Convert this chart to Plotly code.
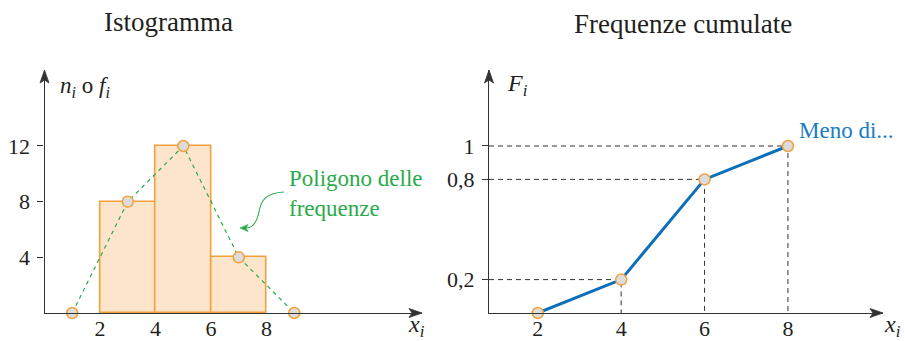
import plotly.graph_objects as go

# ---- data: histogram of the absolute frequencies ----
class_mid = [3, 5, 7]          # class centres (classes 2-4, 4-6, 6-8)
class_width = [2, 2, 2]
freq = [8, 12, 4]
poly_x = [1, 3, 5, 7, 9]        # frequency polygon, closed on empty classes
poly_y = [0, 8, 12, 4, 0]
hist_xticks = [2, 4, 6, 8]
hist_yticks = [4, 8, 12]

# ---- data: cumulative frequencies ("meno di ...") ----
cum_x = [2, 4, 6, 8]
cum_F = [0, 0.2, 0.8, 1]
cum_xticks = [2, 4, 6, 8]
cum_yticks = [0.2, 0.8, 1]
cum_yticktext = ["0,2", "0,8", "1"]

SERIF = "Liberation Serif, Times New Roman, DejaVu Serif, serif"
INK = "#231f20"
AXIS = "#333333"
ORANGE = "#f4a03c"
PEACH = "#fde5cb"
GREEN = "#2aab4a"
BLUE = "#0b6fba"
W, H = 905, 341

def px(x):
    return x / W

def py(y):
    return 1 - y / H

# axis ranges
L_XR = [0, 13.6]
L_YR = [0, 17.46]
R_XR = [0.83, 10.28]
R_YR = [0, 1.455]
L_XDOM = [44.5 / W, 422 / W]
R_XDOM = [489 / W, 883 / W]
YDOM = [28 / H, 271 / H]

fig = go.Figure()

# histogram bars
fig.add_trace(go.Bar(
    x=class_mid, y=freq, width=class_width,
    marker=dict(color=PEACH, line=dict(color=ORANGE, width=1.6)),
    xaxis="x", yaxis="y", hoverinfo="skip",
))

# frequency polygon
fig.add_trace(go.Scatter(
    x=poly_x, y=poly_y, mode="lines+markers",
    line=dict(color=GREEN, width=1.2, dash="4px,4px"),
    marker=dict(size=11, color="#dcdcdc", line=dict(color=ORANGE, width=1.5)),
    cliponaxis=False, xaxis="x", yaxis="y",
))

# dashed guides of the cumulative curve
for xv, fv in zip(cum_x[1:], cum_F[1:]):
    fig.add_trace(go.Scatter(
        x=[R_XR[0], xv, xv], y=[fv, fv, 0], mode="lines",
        line=dict(color=AXIS, width=1, dash="5px,4px"),
        xaxis="x2", yaxis="y2", hoverinfo="skip",
    ))

# cumulative frequency polygon
fig.add_trace(go.Scatter(
    x=cum_x, y=cum_F, mode="lines+markers",
    line=dict(color=BLUE, width=3),
    marker=dict(size=11, color="#dcdcdc", line=dict(color=ORANGE, width=1.5)),
    cliponaxis=False, xaxis="x2", yaxis="y2",
))

tickfont = dict(family=SERIF, size=22, color=INK)

common_x = dict(showgrid=False, zeroline=False, showline=True, linecolor=AXIS,
                linewidth=1.3, ticks="", tickfont=tickfont, ticklabelstandoff=-5,
                fixedrange=True, automargin=False)
common_y = dict(showgrid=False, zeroline=False, showline=True, linecolor=AXIS,
                linewidth=1.3, ticks="outside", ticklen=6, tickwidth=1.3,
                tickcolor=AXIS, tickfont=tickfont, ticklabelstandoff=3,
                fixedrange=True, automargin=False)
inner_ticks = dict(showticklabels=False, ticks="inside", ticklen=5, tickwidth=1.3,
                   tickcolor=AXIS, showgrid=False, zeroline=False, showline=False,
                   fixedrange=True, automargin=False)

fig.update_layout(
    width=W, height=H, autosize=False,
    margin=dict(l=0, r=0, t=0, b=0, pad=0, autoexpand=False),
    paper_bgcolor="white", plot_bgcolor="white",
    showlegend=False, bargap=0,
    xaxis=dict(domain=L_XDOM, range=L_XR, tickvals=hist_xticks, anchor="y", **common_x),
    yaxis=dict(domain=YDOM, range=L_YR, tickvals=hist_yticks, anchor="x", **common_y),
    xaxis2=dict(domain=R_XDOM, range=R_XR, tickvals=cum_xticks, anchor="y2", **common_x),
    yaxis2=dict(domain=YDOM, range=R_YR, tickvals=cum_yticks, ticktext=cum_yticktext,
                anchor="x2", **common_y),
    # inner halves of the y ticks, so that they cross the axis
    yaxis3=dict(domain=YDOM, range=L_YR, tickvals=hist_yticks, overlaying="y",
                anchor="x", **inner_ticks),
    yaxis4=dict(domain=YDOM, range=R_YR, tickvals=cum_yticks, overlaying="y2",
                anchor="x2", **inner_ticks),
)

# arrow heads at the ends of the axes (concave triangles)
def head_right(dom):
    u = 1 / ((dom[1] - dom[0]) * W)   # one pixel in x-domain units
    v = 1 / ((YDOM[1] - YDOM[0]) * H)  # one pixel in y-domain units
    return (f"M 1,0 L {1 - 13 * u},{4.5 * v} L {1 - 10 * u},0 "
            f"L {1 - 13 * u},{-4.5 * v} Z")

def head_up(dom):
    u = 1 / ((dom[1] - dom[0]) * W)
    v = 1 / ((YDOM[1] - YDOM[0]) * H)
    return (f"M 0,1 L {4.5 * u},{1 - 13 * v} L 0,{1 - 10 * v} "
            f"L {-4.5 * u},{1 - 13 * v} Z")

for xr, yr, dom in (("x", "y", L_XDOM), ("x2", "y2", R_XDOM)):
    for path in (head_right(dom), head_up(dom)):
        fig.add_shape(type="path", xref=f"{xr} domain", yref=f"{yr} domain",
                      path=path, fillcolor=AXIS, line=dict(color=AXIS, width=0.8))

titlefont = dict(family=SERIF, size=27, color=INK)
labelfont = dict(family=SERIF, size=24, color=INK)
annotations = [
    dict(x=px(168), y=py(22), text="Istogramma", font=titlefont),
    dict(x=px(683), y=py(24), text="Frequenze cumulate", font=titlefont),
    dict(x=px(58), y=py(87), xanchor="left",
         text="<i>n</i><sub><i>i</i></sub> o <i>f</i><sub><i>i</i></sub>",
         font=dict(family=SERIF, size=23, color=INK)),
    dict(x=px(505), y=py(85), xanchor="left",
         text="<i>F</i><sub><i>i</i></sub>", font=labelfont),
    dict(x=px(406), y=py(326), xanchor="left",
         text="<i>x</i><sub><i>i</i></sub>", font=labelfont),
    dict(x=px(882), y=py(326), xanchor="left",
         text="<i>x</i><sub><i>i</i></sub>", font=labelfont),
    dict(x=px(287), y=py(193), xanchor="left", align="left",
         text="Poligono delle<br>frequenze",
         font=dict(family=SERIF, size=23, color=GREEN)),
    dict(x=px(797), y=py(130), xanchor="left", text="Meno di...",
         font=dict(family=SERIF, size=23, color="#1a7cc2")),
]
for a in annotations:
    a.setdefault("xanchor", "center")
    a.update(xref="paper", yref="paper", yanchor="middle", showarrow=False)
fig.update_layout(annotations=annotations)

# curved pointer from the label to the polygon
pts = [(284, 192), (266, 193), (261, 200), (259, 212), (256, 226), (250, 228), (246, 228)]
p = [(px(x), py(y)) for x, y in pts]
path = (f"M {p[0][0]},{p[0][1]} C {p[1][0]},{p[1][1]} {p[2][0]},{p[2][1]} {p[3][0]},{p[3][1]} "
        f"C {p[4][0]},{p[4][1]} {p[5][0]},{p[5][1]} {p[6][0]},{p[6][1]}")
fig.add_shape(type="path", xref="paper", yref="paper", path=path,
              line=dict(color=GREEN, width=1.1))
head = [(240, 228), (248, 224.5), (246, 228), (248, 231.5)]
h = [(px(x), py(y)) for x, y in head]
fig.add_shape(type="path", xref="paper", yref="paper",
              path=f"M {h[0][0]},{h[0][1]} L {h[1][0]},{h[1][1]} L {h[2][0]},{h[2][1]} "
                   f"L {h[3][0]},{h[3][1]} Z",
              fillcolor=GREEN, line=dict(color=GREEN, width=0.6))

fig.write_html("out.html")
